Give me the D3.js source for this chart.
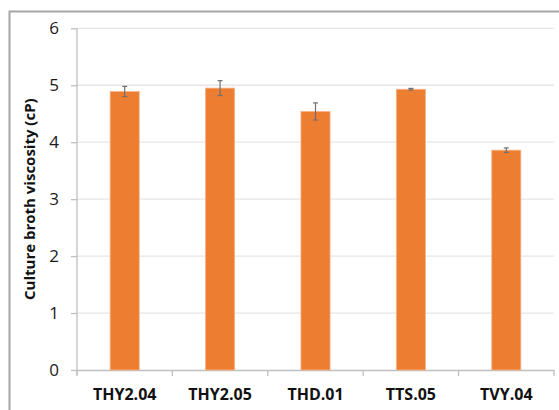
<!DOCTYPE html>
<html><head><meta charset="utf-8">
<script src="https://cdn.jsdelivr.net/npm/d3@7"></script>
<style>body{margin:0;background:#fff}svg{display:block}</style>
</head><body>
<script>
const categories = ["THY2.04","THY2.05","THD.01","TTS.05","TVY.04"];
const values = [4.89, 4.95, 4.54, 4.93, 3.86];
const errors = [0.09, 0.13, 0.15, 0.015, 0.04];
const yTicks = [0,1,2,3,4,5,6];
const yTitle = "Culture broth viscosity (cP)";

const W = 559, H = 410;
const svg = d3.select("body").append("svg").attr("width", W).attr("height", H);

// outer frame
svg.append("path").attr("d", `M9.5,${H+5} L9.5,11.5 L${W+5},11.5`)
  .attr("fill","none").attr("stroke","#a6a6a6").attr("stroke-width",2);

const x = d3.scaleBand().domain(categories).range([77, 554]).paddingInner(0).paddingOuter(0);
const y = d3.scaleLinear().domain([0,6]).range([370, 28.3]);
const font = "Open Sans, Liberation Sans, sans-serif";

// gridlines
svg.append("g").selectAll("line").data(yTicks.filter(d=>d>0)).join("line")
  .attr("x1", 77).attr("x2", 554).attr("y1", d=>y(d)).attr("y2", d=>y(d))
  .attr("stroke","#e6e6e6").attr("stroke-width",1.3);

// y axis
const ya = svg.append("g").attr("transform","translate(77,0)")
  .call(d3.axisLeft(y).tickValues(yTicks).tickSize(6).tickPadding(8).tickFormat(d3.format("d")));
ya.select(".domain").attr("stroke","#bfbfbf").attr("stroke-width",1.3).attr("d", `M-0,375 V${y(6)}`);
ya.selectAll(".tick line").attr("stroke","#bfbfbf").attr("stroke-width",1.3);
ya.selectAll(".tick text").attr("font-family",font).attr("font-size",17).attr("fill","#1a1a1a").attr("dx","-4");

// x axis
const xa = svg.append("g").attr("transform","translate(0,370)")
  .call(d3.axisBottom(x).tickSize(0).tickPadding(19));
xa.select(".domain").attr("stroke","#bfbfbf").attr("stroke-width",1.3);
xa.selectAll(".tick text").attr("font-family",font).attr("font-size",16).attr("font-weight","bold").attr("fill","#111");
// category boundary ticks
svg.append("g").selectAll("line").data(categories.map((c,i)=>i).concat([categories.length]))
  .join("line")
  .attr("x1", i => i<categories.length ? x(categories[i]) : x(categories[categories.length-1])+x.step())
  .attr("x2", i => i<categories.length ? x(categories[i]) : x(categories[categories.length-1])+x.step())
  .attr("y1", 370).attr("y2", 376).attr("stroke","#bfbfbf").attr("stroke-width",1.3);

// bars
const bw = x.step()*0.305;
svg.append("g").selectAll("rect").data(categories).join("rect")
  .attr("x", (c)=>x(c)+x.step()/2-bw/2).attr("width", bw)
  .attr("y", (c,i)=>y(values[i])).attr("height", (c,i)=>370-y(values[i]))
  .attr("fill","#ed7d31").attr("stroke","#f6b48a").attr("stroke-width",0.8);

// error bars
const eg = svg.append("g").attr("stroke","#707070").attr("stroke-width",1.2);
categories.forEach((c,i)=>{
  const cx = x(c)+x.step()/2;
  const y1 = y(values[i]+errors[i]), y2 = y(values[i]-errors[i]);
  eg.append("line").attr("x1",cx).attr("x2",cx).attr("y1",y1).attr("y2",y2);
  eg.append("line").attr("x1",cx-2.5).attr("x2",cx+2.5).attr("y1",y1).attr("y2",y1);
  eg.append("line").attr("x1",cx-2.5).attr("x2",cx+2.5).attr("y1",y2).attr("y2",y2);
});

// y title
svg.append("text").attr("transform",`translate(35,${(370+28.3)/2}) rotate(-90)`)
  .attr("text-anchor","middle").attr("font-family",font).attr("font-size",15)
  .attr("font-weight","bold").attr("fill","#111").text(yTitle);
</script>
</body></html>
